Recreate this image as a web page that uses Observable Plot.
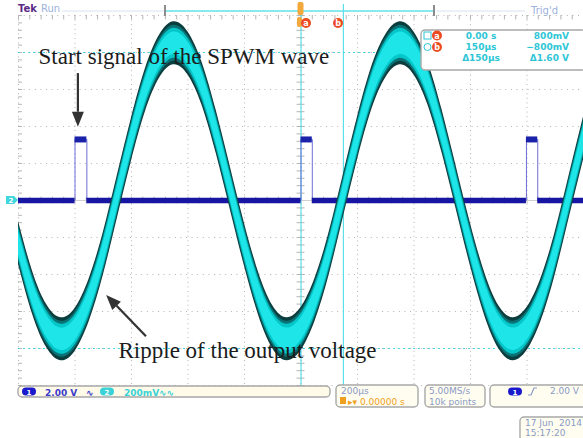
<!DOCTYPE html>
<html><head><meta charset="utf-8">
<script src="https://cdn.jsdelivr.net/npm/d3@7"></script>
<script src="https://cdn.jsdelivr.net/npm/@observablehq/plot@0.6"></script>
<style>
html,body{margin:0;padding:0;background:#fff;}
#chart{position:relative;width:583px;height:438px;overflow:hidden;}
</style></head><body><div id="chart"></div>
<script>
// ---- data ----
// sample times (µs, trigger at 0) and channel 2 (output voltage, mV) centre of the ripple band
const timeUs = [-1000,-950,-900,-850,-800,-750,-700,-650,-600,-550,-500,-450,-400,-350,-300,-250,-200,-150,-100,-50,
                0,50,100,150,200,250,300,350,400,450,500,550,600,650,700,750,800,850,900,950,1000];
const ch2mV  = [-230,-500,-680,-750,-700,-540,-290,20,330,600,780,850,795,630,370,65,-240,-505,-685,-750,
                -695,-535,-285,25,335,605,780,850,795,630,370,65,-240,-505,-685,-750,-695,-535,-285,25,335];
// channel 1: SPWM start pulses (µs) and logic levels (V)
const ch1RiseUs = [-800, 0, 798];
const ch1FallUs = [-758, 40, 838];
const ch1HighV = 3.3;
const ch1LowV = 0;
// cursors
const cursorTimesUs = [0, 150];
const cursorLevelsmV = [800, -800];
// scope settings
const usPerDiv = 200, ch2mVPerDiv = 200, ch1VPerDiv = 2;
// annotations (µs, divisions)
const notes = [
  {text: "Start signal of the SPWM wave", t: -929, d: 3.68},
  {text: "Ripple of the output voltage", t: -646, d: -4.27}
];
const arrows = [
  {t1: -788, d1: 3.43, t2: -788, d2: 1.98},
  {t1: -547, d1: -3.68, t2: -688, d2: -2.57}
];

// ---- derived tables ----
const ch2 = timeUs.map((t, i) => ({t, d: ch2mV[i] / ch2mVPerDiv}));
const ch1Path = [{t: -1000, v: ch1LowV}];
ch1RiseUs.forEach((r, i) => {
  ch1Path.push({t: r, v: ch1LowV}, {t: r, v: ch1HighV}, {t: ch1FallUs[i], v: ch1HighV}, {t: ch1FallUs[i], v: ch1LowV});
});
ch1Path.push({t: 1000, v: ch1LowV});
const lows = [], highs = [];
let prev = -1000;
ch1RiseUs.forEach((r, i) => { lows.push({x1: prev, x2: r}); highs.push({x1: r, x2: ch1FallUs[i]}); prev = ch1FallUs[i]; });
lows.push({x1: prev, x2: 1000});

const gridT = d3.range(-1000, 1001, usPerDiv);
const gridD = d3.range(-5, 5.01, 1);
const minorT = d3.range(-1000, 1001, usPerDiv / 5);
const minorD = d3.range(-5, 5.01, 0.2);
const band = 0.58;

const plot = Plot.plot({
  width: 583, height: 438,
  marginLeft: 18, marginRight: 0, marginTop: 15, marginBottom: 53,
  x: {domain: [-1000, 1000], axis: null},
  y: {domain: [-5, 5], axis: null},
  style: {background: "white", overflow: "visible"},
  marks: [
    Plot.ruleX(gridT, {stroke: "#b4b4b4", strokeDasharray: "1,3.6"}),
    Plot.ruleY(gridD, {stroke: "#b4b4b4", strokeDasharray: "1,4.6"}),
    Plot.ruleX(minorT, {y1: 0.09, y2: -0.09, stroke: "#b4b4b4"}),
    Plot.ruleX(minorT, {y1: 5, y2: 4.88, stroke: "#b4b4b4"}),
    Plot.ruleY(minorD, {x1: -14, x2: 14, stroke: "#b4b4b4"}),
    Plot.ruleY(minorD, {x1: -1000, x2: -986, stroke: "#b4b4b4"}),
    Plot.ruleY([0], {stroke: "#cfcfcf"}),
    Plot.ruleY(cursorLevelsmV.map(v => v / ch2mVPerDiv), {stroke: "#46d6e0", strokeDasharray: "2,3", strokeWidth: 1.2}),
    Plot.ruleX(cursorTimesUs, {y1: 5.3, y2: -5, stroke: "#52dde6", strokeWidth: 1.1}),
    // channel 1
    Plot.line(ch1Path, {x: "t", y: d => d.v / ch1VPerDiv, stroke: "#6e6ed6", strokeWidth: 1}),
    Plot.ruleY(lows, {x1: "x1", x2: "x2", y: () => ch1LowV / ch1VPerDiv, stroke: "#1616a2", strokeWidth: 5.5}),
    Plot.ruleY(highs, {x1: "x1", x2: "x2", y: () => ch1HighV / ch1VPerDiv, stroke: "#1a22aa", strokeWidth: 6}),
    // channel 2 ripple band
    Plot.areaY(ch2, {x: "t", y1: d => d.d - band, y2: d => d.d + band, curve: "natural", fill: "#0b3c3e"}),
    Plot.areaY(ch2, {x: "t", y1: d => d.d - band * 0.84, y2: d => d.d + band * 0.84, curve: "natural", fill: "#0a7274"}),
    Plot.areaY(ch2, {x: "t", y1: d => d.d - band * 0.7, y2: d => d.d + band * 0.7, curve: "natural", fill: "#05c6c9"}),
    Plot.areaY(ch2, {x: "t", y1: d => d.d - band * 0.52, y2: d => d.d + band * 0.52, curve: "natural", fill: "#1ee6e8"}),
    // annotations
    Plot.text(notes, {x: "t", y: "d", text: "text", textAnchor: "start", lineAnchor: "bottom",
      fontFamily: "Liberation Serif", fontSize: 23, fill: "#1c1c1c"})
  ]
});
document.getElementById("chart").appendChild(plot);

const svg = d3.select(plot);
const X = plot.scale("x"), Y = plot.scale("y");
// arrows
arrows.forEach(a => {
  const x1 = X.apply(a.t1), y1 = Y.apply(a.d1), x2 = X.apply(a.t2), y2 = Y.apply(a.d2);
  const ang = Math.atan2(y2 - y1, x2 - x1), L = 15, Wd = 6;
  const bx = x2 - L * Math.cos(ang), by = y2 - L * Math.sin(ang);
  svg.append("line").attr("x1", x1).attr("y1", y1).attr("x2", bx).attr("y2", by)
    .attr("stroke", "#333").attr("stroke-width", 2.2);
  const px = -Math.sin(ang) * Wd, py = Math.cos(ang) * Wd;
  svg.append("path").attr("d", `M${x2},${y2}L${bx + px},${by + py}L${bx - px},${by - py}Z`).attr("fill", "#333");
});

const F = "DejaVu Sans";
function txt(x, y, s, fill, size = 9, anchor = "start", weight = "normal") {
  svg.append("text").attr("x", x).attr("y", y).text(s).attr("fill", fill)
    .attr("font-family", F).attr("font-size", size).attr("text-anchor", anchor).attr("font-weight", weight);
}
function box(x, y, w, h, fill = "#fffdf0") {
  svg.append("rect").attr("x", x).attr("y", y).attr("width", w).attr("height", h).attr("rx", 4)
    .attr("fill", fill).attr("stroke", "#a8a8a8").attr("stroke-width", 1.4);
}
function pill(x, y, s, fill) {
  svg.append("rect").attr("x", x).attr("y", y).attr("width", 14).attr("height", 8).attr("rx", 4).attr("fill", fill);
  txt(x + 7, y + 7, s, "#fff", 7, "middle", "bold");
}
function marker(x, y, s) {
  svg.append("circle").attr("cx", x).attr("cy", y).attr("r", 5).attr("fill", "#ec4a22");
  txt(x, y + 3, s, "#fff", 8, "middle", "bold");
}
const blueTxt = "#8a9ac6";
// top bar
txt(18, 12, "Tek", "#5a2a86", 10, "start", "bold");
txt(41, 12, "Run", "#9db2dc", 10);
svg.append("line").attr("x1", 62).attr("x2", 165).attr("y1", 11).attr("y2", 11).attr("stroke", "#d6e2ee");
svg.append("line").attr("x1", 166).attr("x2", 434).attr("y1", 11).attr("y2", 11).attr("stroke", "#62e2ea").attr("stroke-width", 1.6);
svg.append("line").attr("x1", 436).attr("x2", 525).attr("y1", 11).attr("y2", 11).attr("stroke", "#d6e2ee");
[165, 434].forEach(x => svg.append("rect").attr("x", x - 1).attr("y", 5).attr("width", 2).attr("height", 11).attr("fill", "#8c8c8c"));
svg.append("rect").attr("x", 297.5).attr("y", 2).attr("width", 6).attr("height", 13).attr("rx", 2).attr("fill", "#f2a83a");
svg.append("rect").attr("x", 297).attr("y", 17).attr("width", 5).attr("height", 10).attr("rx", 2).attr("fill", "#f2a83a");
txt(531, 14, "Trig'd", "#9db2dc", 10);
marker(306, 23, "a");
marker(338, 23, "b");
// cursor readout
box(421, 30, 165, 40, "#ffffff");
const cy = "#2ec6d6";
svg.append("rect").attr("x", 424).attr("y", 32).attr("width", 7).attr("height", 7).attr("fill", "none").attr("stroke", cy);
svg.append("circle").attr("cx", 427.5).attr("cy", 47).attr("r", 3.5).attr("fill", "none").attr("stroke", cy);
marker(437, 35.5, "a");
marker(437, 47, "b");
txt(481, 39, "0.00 s", cy, 9, "middle", "bold");
txt(481, 50, "150µs", cy, 9, "middle", "bold");
txt(481, 61, "Δ150µs", cy, 9, "middle", "bold");
txt(569, 39, "800mV", cy, 9, "end", "bold");
txt(569, 50, "−800mV", cy, 9, "end", "bold");
txt(569, 61, "Δ1.60 V", cy, 9, "end", "bold");
// channel 2 ground tag
svg.append("path").attr("d", "M6,196h8l4,4l-4,4h-8z").attr("fill", "#3fd6de");
txt(11, 203, "2", "#fff", 7, "middle", "bold");
// bottom bars
box(18, 386, 312, 11, "#fffbe8");
pill(22, 387.5, "1", "#1a1acc");
txt(45, 395.5, "2.00 V", "#3a3acc", 9, "start", "bold");
txt(86, 395.5, "∿", "#3a3acc", 9, "start", "bold");
pill(100, 387.5, "2", "#3ad2d6");
txt(124, 395.5, "200mV", "#3ad2d6", 9, "start", "bold");
txt(159, 395.5, "∿∿", "#3ad2d6", 9, "start", "bold");
box(336, 385, 82, 22);
txt(341, 394, "200µs", blueTxt, 9);
svg.append("rect").attr("x", 340).attr("y", 397).attr("width", 6).attr("height", 7).attr("fill", "#f0a020");
txt(348, 404.5, "▸▾ 0.00000 s", "#f0a020", 9);
box(425, 385, 60, 22);
txt(429, 394, "5.00MS/s", blueTxt, 9);
txt(429, 404.5, "10k points", blueTxt, 9);
box(490, 385, 100, 22);
pill(508, 387.5, "1", "#1a1acc");
svg.append("path").attr("d", "M528,395h3l3,-7h3").attr("fill", "none").attr("stroke", blueTxt).attr("stroke-width", 1.2);
txt(579, 394, "2.00 V", blueTxt, 9, "end");
box(520, 417, 70, 24);
txt(525, 426, "17 Jun  2014", blueTxt, 9);
txt(525, 436, "15:17:20", blueTxt, 9);
</script></body></html>
